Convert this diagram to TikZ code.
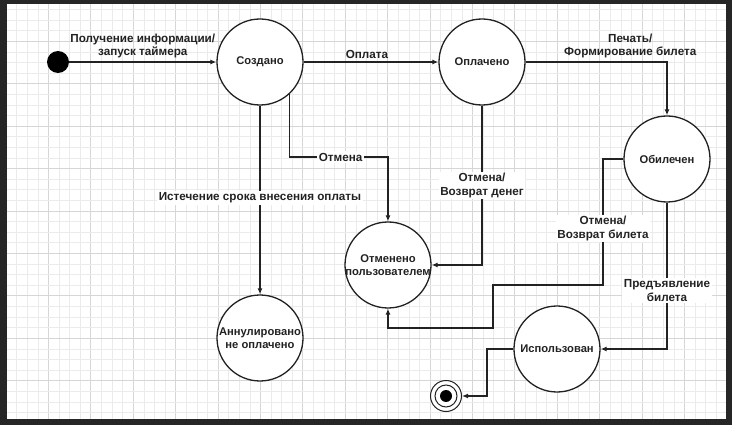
\documentclass[tikz,border=0pt]{standalone}
\usepackage{fontspec}
\setmainfont{Liberation Sans}
\usetikzlibrary{arrows.meta}
\definecolor{frame}{HTML}{262626}
\definecolor{ink}{HTML}{222222}
\definecolor{gridminor}{HTML}{EBEBEB}
\definecolor{gridmajor}{HTML}{D6D6D6}
\begin{document}
\begin{tikzpicture}[x=1pt,y=-1pt,
  txt/.style={font=\fontsize{11.7}{13.5}\selectfont\bfseries, text=ink, align=center},
  statetxt/.style={font=\fontsize{11.2}{13}\selectfont\bfseries, text=ink, align=center},
  state/.style={circle, draw=ink, line width=1.3pt, fill=white,
    minimum size=86pt, inner sep=0pt, label={[statetxt, inner sep=0pt]center:#1}},
  initial/.style={circle, fill=black, minimum size=22pt, inner sep=0pt},
  final/.style={circle, draw=ink, line width=1pt, fill=white,
    minimum size=31pt, inner sep=0pt},
  conn/.style={draw=ink, line width=1.2pt, -{Latex[length=6pt,width=5pt]}},
  lbl/.style={txt, fill=white, inner sep=1.5pt},
  toplbl/.style={txt, inner sep=1pt, above=2pt}]

% frame and sheet
\useasboundingbox (0,0) rectangle (732,425);
\fill[frame] (0,0) rectangle (732,425);
\fill[white] (7,4) rectangle (726,419);

% grid paper
\foreach \k in {1,...,67}{
  \pgfmathsetmacro\xx{6+10.6*\k}
  \pgfmathtruncatemacro\m{mod(\k,4)}
  \ifnum\m=0 \draw[gridmajor, line width=0.7pt] (\xx,4) -- (\xx,419);
  \else \draw[gridminor, line width=0.6pt] (\xx,4) -- (\xx,419); \fi
}
\foreach \k in {1,...,39}{
  \pgfmathsetmacro\yy{-1+10.6*\k}
  \pgfmathtruncatemacro\m{mod(\k,4)}
  \ifnum\m=0 \draw[gridmajor, line width=0.7pt] (7,\yy) -- (726,\yy);
  \else \draw[gridminor, line width=0.6pt] (7,\yy) -- (726,\yy); \fi
}

% states
\node[initial] (init) at (58,62) {};
\node[state={Создано}] (sozd) at (260,62) {};
\node[state={Оплачено}] (opl) at (482,62) {};
\node[state={Обилечен}] (obil) at (667,159) {};
\node[state={Отменено\\пользователем}] (otm) at (388,265) {};
\node[state={Аннулировано\\не оплачено}] (ann) at (260,338) {};
\node[state={Использован}] (isp) at (557,349) {};
\node[final] (fin) at (446,396) {};
\draw[ink, line width=1pt] (fin.center) circle (11);
\fill[black] (fin.center) circle (6);

% bend points
\coordinate (k1) at (388,157);
\coordinate (k2) at (603,285);
\coordinate (k3) at (493,328);
\coordinate (k4) at (487,396);

% transitions
\draw[conn] (init) -- node[toplbl, pos=0.5]{Получение информации/\\запуск таймера} (sozd);
\draw[conn] (sozd) -- node[toplbl, pos=0.47]{Оплата} (opl);
\draw[conn] (opl.east) -| node[toplbl, pos=0.37]{Печать/\\Формирование билета} (obil.north);
\draw[conn] (sozd.-48) |- node[lbl, pos=0.76]{Отмена} (k1) -- (otm.north);
\draw[conn] (sozd) -- node[lbl, pos=0.49]{Истечение срока внесения оплаты} (ann);
\draw[conn] (opl) |- node[lbl, pos=0.25]{Отмена/\\Возврат денег} (otm);
\draw[conn] (obil.west) -| node[lbl, pos=0.775]{Отмена/\\Возврат билета} (k2) -| (k3) -| (otm.south);
\draw[conn] (obil) |- node[lbl, pos=0.3]{Предъявление\\билета} (isp);
\draw[conn] (isp.west) -| (k4) -- (fin);
\end{tikzpicture}
\end{document}
